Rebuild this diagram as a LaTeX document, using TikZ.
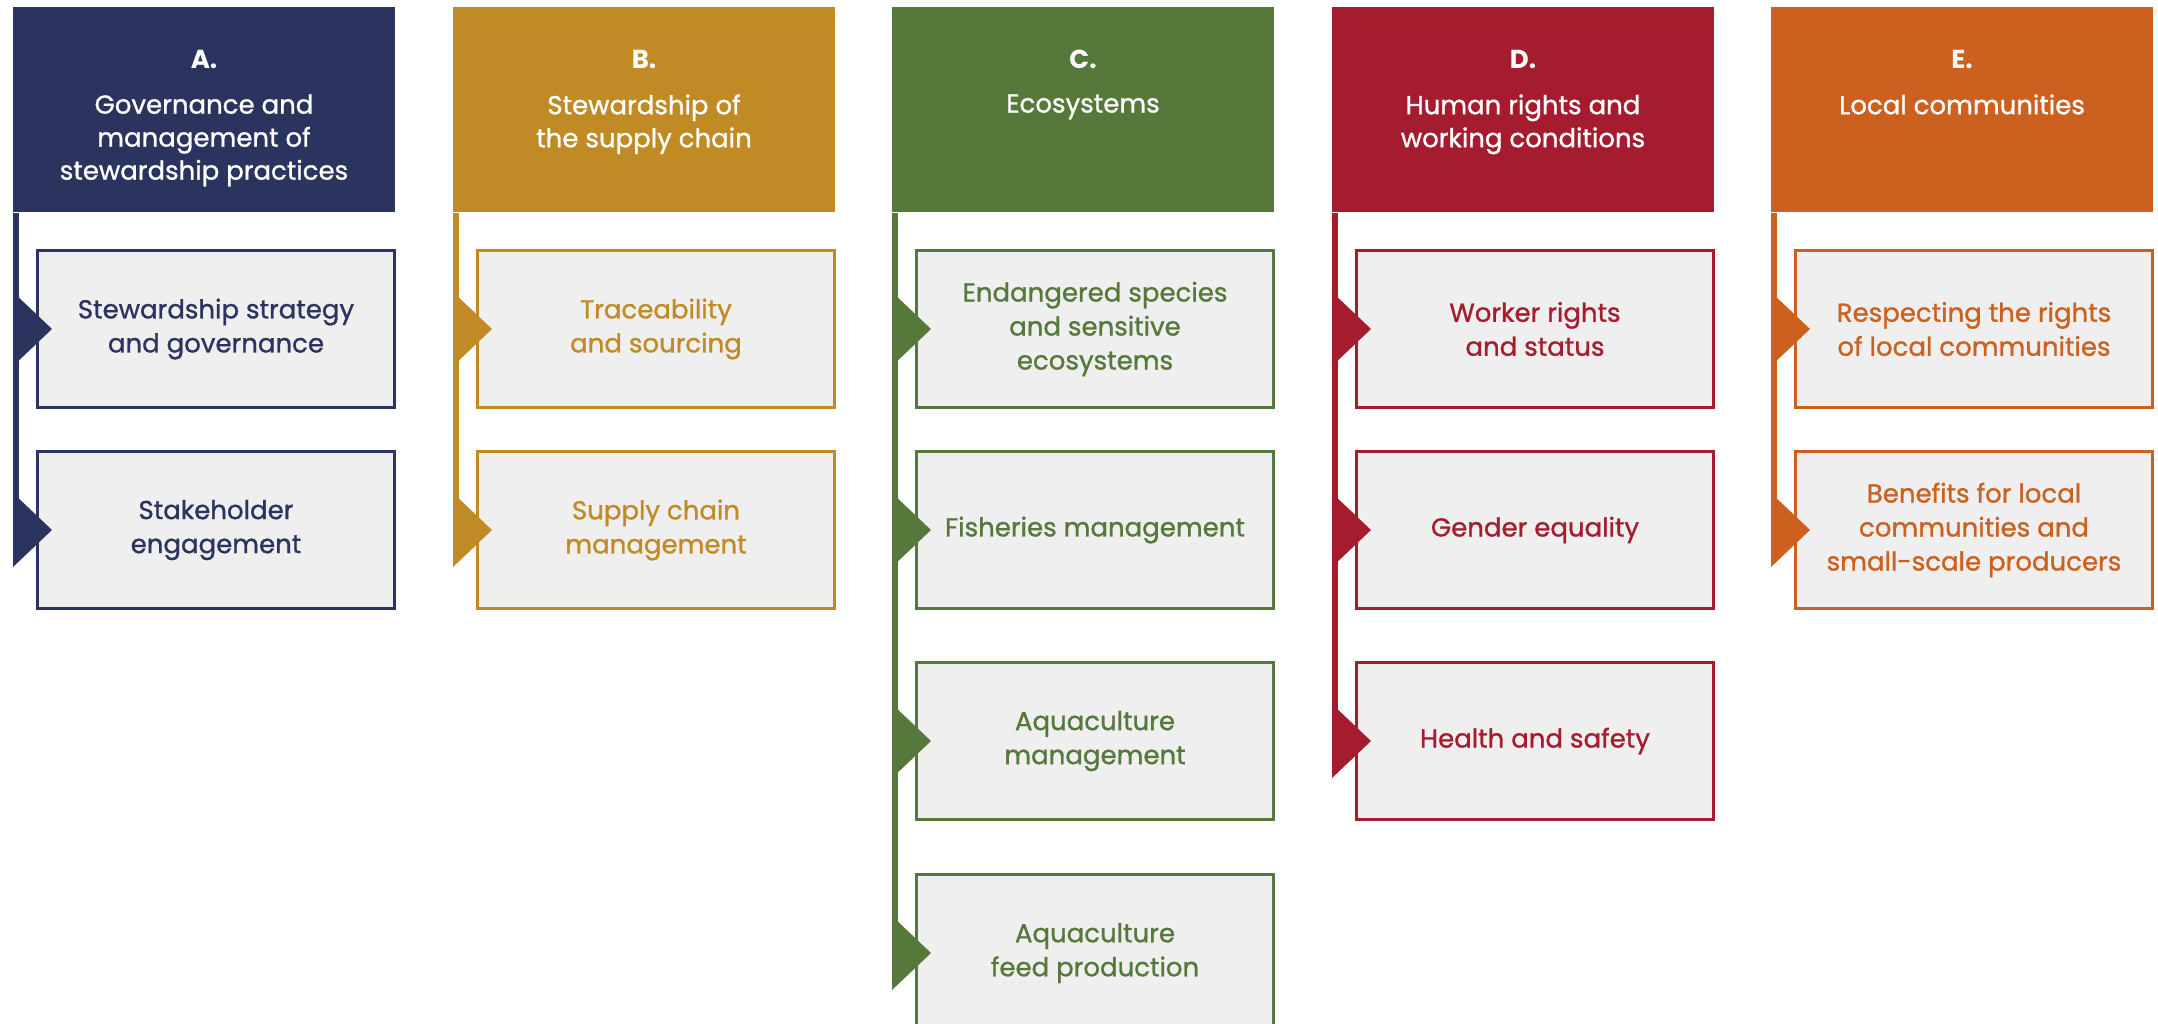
\documentclass[tikz,border=0pt]{standalone}
\usepackage{fontspec}
\setmainfont{Poppins}
\newfontfamily\medfont{Poppins}[FakeBold=1]
\definecolor{cA}{HTML}{2B345E}
\definecolor{cB}{HTML}{C08B24}
\definecolor{cC}{HTML}{56783A}
\definecolor{cD}{HTML}{A51C2E}
\definecolor{cE}{HTML}{CC601F}
\definecolor{boxfill}{HTML}{EFEFEF}
\newcommand\arrowtri[2]{\fill[#1] ([xshift=-11.5pt,yshift=18.5pt]#2.west) -- ([xshift=8pt]#2.west) -- ([xshift=-11.5pt,yshift=-18.5pt]#2.west) -- cycle;}
\newcommand\spinebar[3]{\fill[#1] (#2.south west) rectangle ([xshift=3pt]#2.south west |- #3.west);}
\begin{document}
\begin{tikzpicture}[x=0.5pt,y=-0.5pt,
  header/.style={fill=#1, draw=none, minimum width=191pt, minimum height=102.5pt, inner sep=0, anchor=north west},
  item/.style={draw=#1, fill=boxfill, line width=1.5pt, text=#1, minimum width=178.5pt, minimum height=78.5pt, anchor=north west, align=center, inner sep=0, font=\medfont\fontsize{13}{17}\selectfont},
  letter/.style={text=white, font=\fontsize{13}{17}\selectfont\bfseries, inner sep=0},
  htitle/.style={text=white, font=\medfont\fontsize{13}{16.5}\selectfont, align=center, inner sep=0, anchor=north}]
\clip (0,0) rectangle (2158,1023);
\fill[white] (0,0) rectangle (2158,1023);
% Column A
\node[header=cA] (hA) at (13,7) {};
\node[letter] (lA) at (204,59) {A.};
\node[htitle] (tA) at (204,94) {Governance and\\management of\\stewardship practices};
\node[item=cA] (a1) at (36,249) {Stewardship strategy\\and governance};
\node[item=cA] (a2) at (36,450) {Stakeholder\\engagement};
\spinebar{cA}{hA}{a2}
\arrowtri{cA}{a1}
\arrowtri{cA}{a2}
% Column B
\node[header=cB] (hB) at (453,7) {};
\node[letter] (lB) at (644,59) {B.};
\node[htitle] (tB) at (644,94) {Stewardship of\\the supply chain};
\node[item=cB] (b1) at (476,249) {Traceability\\and sourcing};
\node[item=cB] (b2) at (476,450) {Supply chain\\management};
\spinebar{cB}{hB}{b2}
\arrowtri{cB}{b1}
\arrowtri{cB}{b2}
% Column C
\node[header=cC] (hC) at (892,7) {};
\node[letter] (lC) at (1083,59) {C.};
\node[htitle] (tC) at (1083,94) {Ecosystems};
\node[item=cC] (c1) at (915,249) {Endangered species\\and sensitive\\ecosystems};
\node[item=cC] (c2) at (915,450) {Fisheries management};
\node[item=cC] (c3) at (915,661) {Aquaculture\\management};
\node[item=cC] (c4) at (915,873) {Aquaculture\\feed production};
\spinebar{cC}{hC}{c4}
\arrowtri{cC}{c1}
\arrowtri{cC}{c2}
\arrowtri{cC}{c3}
\arrowtri{cC}{c4}
% Column D
\node[header=cD] (hD) at (1332,7) {};
\node[letter] (lD) at (1523,59) {D.};
\node[htitle] (tD) at (1523,94) {Human rights and\\working conditions};
\node[item=cD] (d1) at (1355,249) {Worker rights\\and status};
\node[item=cD] (d2) at (1355,450) {Gender equality};
\node[item=cD] (d3) at (1355,661) {Health and safety};
\spinebar{cD}{hD}{d3}
\arrowtri{cD}{d1}
\arrowtri{cD}{d2}
\arrowtri{cD}{d3}
% Column E
\node[header=cE] (hE) at (1771,7) {};
\node[letter] (lE) at (1962,59) {E.};
\node[htitle] (tE) at (1962,94) {Local communities};
\node[item=cE] (e1) at (1794,249) {Respecting the rights\\of local communities};
\node[item=cE] (e2) at (1794,450) {Benefits for local\\communities and\\small-scale producers};
\spinebar{cE}{hE}{e2}
\arrowtri{cE}{e1}
\arrowtri{cE}{e2}
\end{tikzpicture}
\end{document}
